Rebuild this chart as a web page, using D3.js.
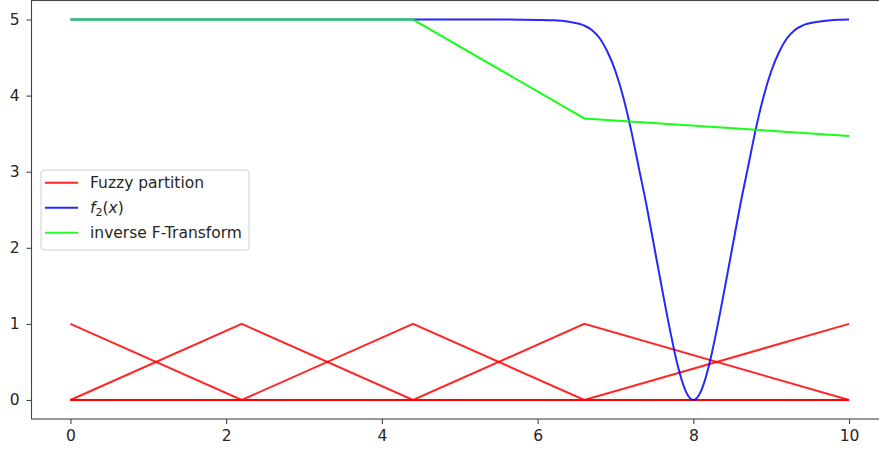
<!DOCTYPE html>
<html>
<head>
<meta charset="utf-8">
<script src="https://cdn.jsdelivr.net/npm/d3@7/dist/d3.min.js"></script>
<style>
  html, body { margin: 0; padding: 0; background: #fff; }
  svg { display: block; font-family: "DejaVu Sans", sans-serif; }
</style>
</head>
<body>
<svg id="chart" width="879" height="450"></svg>
<script>
// Nodes of the triangular fuzzy partition
const partitionNodes = [0, 2.2, 4.4, 6.6, 10];

// f2(x) sampled along the curve
const f2X = [0, 1, 2, 3, 4, 5, 5.5, 6.0, 6.2, 6.4, 6.6, 6.7, 6.8, 6.9, 7.0, 7.1, 7.2, 7.3, 7.4, 7.5,
             7.6, 7.7, 7.8, 7.9, 8.0, 8.1, 8.2, 8.3, 8.4, 8.5, 8.6, 8.7, 8.8, 8.9, 9.0, 9.1, 9.2,
             9.3, 9.4, 9.6, 9.8, 10];
const f2Y = [5, 5, 5, 5, 5, 5, 5, 4.995, 4.99, 4.97, 4.92, 4.86, 4.75, 4.57, 4.32, 3.98, 3.55, 3.05, 2.55, 2.0,
             1.45, 0.92, 0.45, 0.12, 0.0, 0.12, 0.45, 0.92, 1.45, 2.0, 2.55, 3.05, 3.55, 3.98, 4.32, 4.57, 4.75,
             4.86, 4.92, 4.97, 4.995, 5];

// Inverse F-transform evaluated at the partition nodes
const inverseX = [0, 2.2, 4.4, 6.6, 10];
const inverseY = [5.0, 5.0, 5.0, 3.70, 3.47];

const xTicks = [0, 2, 4, 6, 8, 10];
const yTicks = [0, 1, 2, 3, 4, 5];

const legendLabels = ["Fuzzy partition", "f2(x)", "inverse F-Transform"];
const colors = { partition: "#ff0000", f2: "#0000ff", inverse: "#00ff00" };

const svg = d3.select("#chart");
const x = d3.scaleLinear().domain([-0.5, 10.5]).range([31.5, 888]);
const y = d3.scaleLinear().domain([-0.25, 5.25]).range([419, 0.5]);

const line = d3.line().x(d => x(d[0])).y(d => y(d[1]));

// Triangular membership functions over the whole domain (zero outside support)
const partitionLines = partitionNodes.map((c, i) => {
  const pts = [];
  const left = i > 0 ? partitionNodes[i - 1] : null;
  const right = i < partitionNodes.length - 1 ? partitionNodes[i + 1] : null;
  pts.push([0, i === 0 ? 1 : 0]);
  if (left !== null && left > 0) pts.push([left, 0]);
  if (i > 0) pts.push([c, 1]);
  if (right !== null) pts.push([right, 0]);
  if (right !== null && right < 10) pts.push([10, 0]);
  return pts;
});

const plot = svg.append("g");
plot.selectAll("path.partition")
  .data(partitionLines)
  .join("path")
  .attr("class", "partition")
  .attr("d", line)
  .attr("fill", "none")
  .attr("stroke", colors.partition)
  .attr("stroke-opacity", 0.85)
  .attr("stroke-width", 2);

const f2Data = f2X.map((v, i) => [v, f2Y[i]]);
plot.append("path")
  .datum(f2Data)
  .attr("d", d3.line().x(d => x(d[0])).y(d => y(d[1])).curve(d3.curveMonotoneX))
  .attr("fill", "none")
  .attr("stroke", colors.f2)
  .attr("stroke-opacity", 0.85)
  .attr("stroke-width", 2);

const invData = inverseX.map((v, i) => [v, inverseY[i]]);
plot.append("path")
  .datum(invData)
  .attr("d", line)
  .attr("fill", "none")
  .attr("stroke", colors.inverse)
  .attr("stroke-opacity", 0.9)
  .attr("stroke-width", 2);

// Axes
const xAxis = svg.append("g")
  .attr("transform", `translate(0,${y(-0.25)})`)
  .call(d3.axisBottom(x).tickValues(xTicks).tickFormat(d3.format("d")).tickSize(5).tickPadding(5.5));
const yAxis = svg.append("g")
  .attr("transform", `translate(${x(-0.5)},0)`)
  .call(d3.axisLeft(y).tickValues(yTicks).tickFormat(d3.format("d")).tickSize(5).tickPadding(7));

[xAxis, yAxis].forEach(g => {
  g.attr("font-size", null).attr("font-family", null);
  g.select(".domain").remove();
  g.selectAll(".tick line").attr("stroke", "#444").attr("stroke-width", 1.1);
  g.selectAll(".tick text").attr("fill", "#262626").style("font-size", "15.5px")
    .style("font-family", "'DejaVu Sans', sans-serif");
});

// Frame
svg.append("rect")
  .attr("x", x(-0.5)).attr("y", y(5.25))
  .attr("width", x(10.5) - x(-0.5)).attr("height", y(-0.25) - y(5.25))
  .attr("fill", "none").attr("stroke", "#444").attr("stroke-width", 1.1);

// Legend
const legend = svg.append("g").attr("transform", "translate(41,170)");
legend.append("rect")
  .attr("width", 208).attr("height", 80).attr("rx", 3)
  .attr("fill", "#fff").attr("fill-opacity", 0.8)
  .attr("stroke", "#d0d0d0").attr("stroke-width", 1);

const legendColors = [colors.partition, colors.f2, colors.inverse];
legendLabels.forEach((label, i) => {
  const cy = 12.7 + i * 25;
  legend.append("line")
    .attr("x1", 4).attr("x2", 37).attr("y1", cy).attr("y2", cy)
    .attr("stroke", legendColors[i]).attr("stroke-opacity", 0.85).attr("stroke-width", 2);
  const t = legend.append("text")
    .attr("x", 49).attr("y", cy + 5.5)
    .attr("fill", "#262626").style("font-size", "15.5px");
  if (label === "f2(x)") {
    t.append("tspan").text("f").style("font-style", "italic");
    t.append("tspan").text("2").style("font-size", "11px").attr("dy", 3);
    t.append("tspan").text("(").attr("dy", -3);
    t.append("tspan").text("x").style("font-style", "italic");
    t.append("tspan").text(")");
  } else {
    t.text(label);
  }
});
</script>
</body>
</html>
